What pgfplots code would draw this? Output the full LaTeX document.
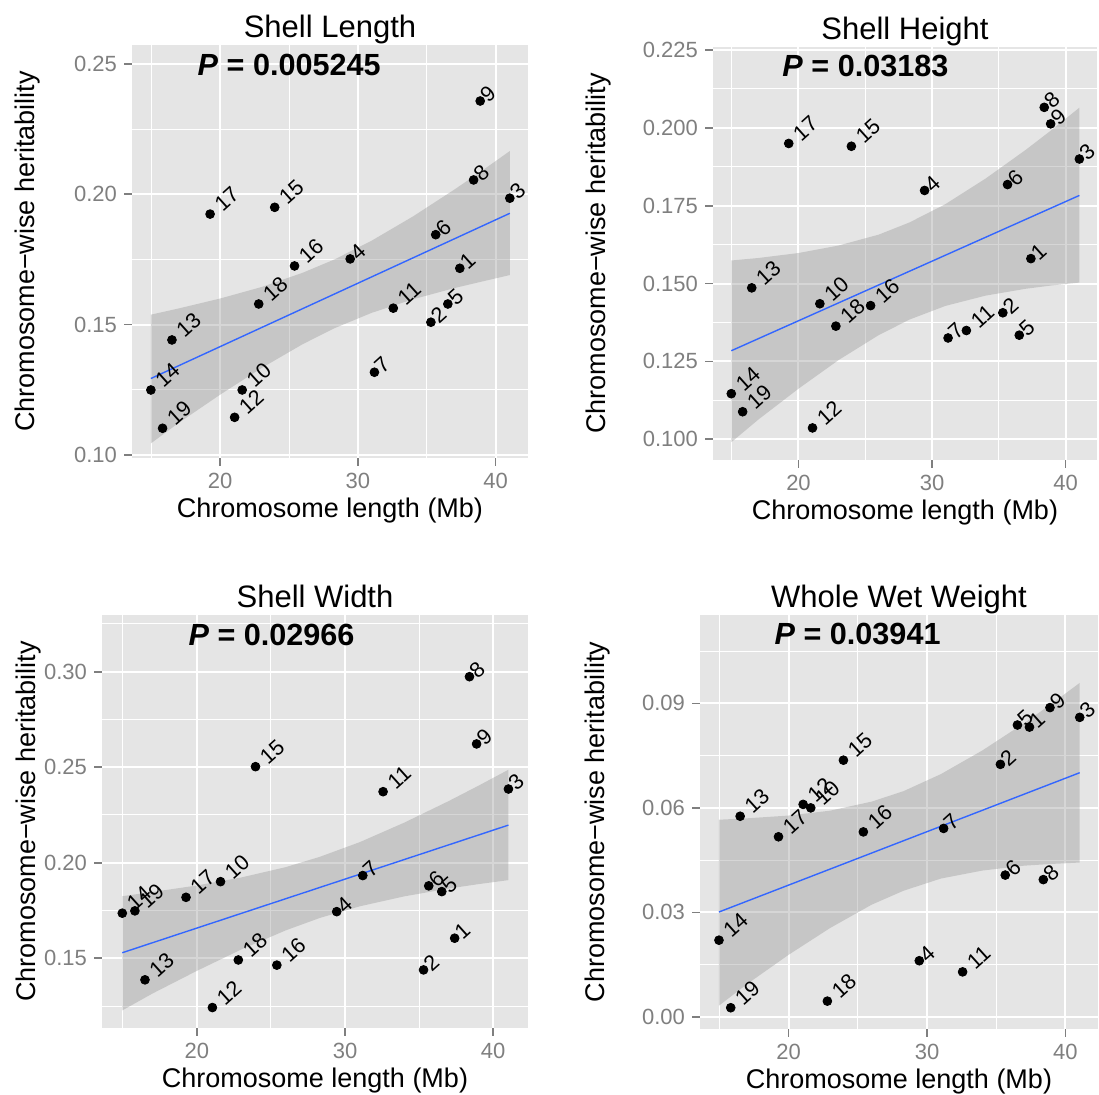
\documentclass[border=0pt]{standalone}
\usepackage{pgfplots}
\pgfplotsset{compat=1.18}
\usepackage{pgfplotstable}
\usepgfplotslibrary{fillbetween}
\usepackage{fontspec}
\setmainfont{Liberation Sans}
\definecolor{bgc}{HTML}{E5E5E5}
\definecolor{grayt}{HTML}{7F7F7F}
\definecolor{bandc}{HTML}{999999}
\definecolor{lineblue}{HTML}{3366FF}
\newcommand\titfont{\fontsize{15.5}{18}\selectfont}
\newcommand\labfont{\fontsize{13.5}{16}\selectfont}
\newcommand\ticfont{\fontsize{11}{13}\selectfont}
\newcommand\ptfont{\fontsize{10.8}{12}\selectfont}
\newcommand\pfont{\fontsize{15.3}{18}\selectfont\bfseries}

\pgfplotstableread{
x y lab off
37.40 0.1716 1 2
35.30 0.1509 2 2
41.03 0.1985 3 2
29.44 0.1752 4 2
36.53 0.1579 5 2
35.65 0.1845 6 2
31.20 0.1317 7 2
38.40 0.2055 8 2
38.88 0.2358 9 2
21.60 0.1249 10 5
32.57 0.1563 11 5
21.05 0.1144 12 5
16.50 0.1441 13 5
14.97 0.1249 14 5
23.96 0.1950 15 5
25.40 0.1725 16 5
19.27 0.1924 17 5
22.80 0.1579 18 5
15.82 0.1102 19 5
}\tabA
\pgfplotstableread{
x y lab off
37.40 0.1580 1 2
35.30 0.1406 2 2
41.03 0.1900 3 2
29.44 0.1799 4 2
36.53 0.1334 5 2
35.65 0.1818 6 2
31.20 0.1325 7 2
38.40 0.2066 8 2
38.88 0.2013 9 2
21.60 0.1435 10 5
32.57 0.1349 11 5
21.05 0.1036 12 5
16.50 0.1486 13 5
14.97 0.1146 14 5
23.96 0.1941 15 5
25.40 0.1429 16 5
19.27 0.1950 17 5
22.80 0.1363 18 5
15.82 0.1088 19 5
}\tabB
\pgfplotstableread{
x y lab off
37.40 0.1605 1 2
35.30 0.1439 2 2
41.03 0.2386 3 2
29.44 0.1744 4 2
36.53 0.1849 5 2
35.65 0.1879 6 2
31.20 0.1933 7 2
38.40 0.2974 8 2
38.88 0.2622 9 2
21.60 0.1901 10 5
32.57 0.2372 11 5
21.05 0.1242 12 5
16.50 0.1387 13 5
14.97 0.1736 14 5
23.96 0.2503 15 5
25.40 0.1464 16 5
19.27 0.1819 17 5
22.80 0.1491 18 5
15.82 0.1748 19 5
}\tabC
\pgfplotstableread{
x y lab off
37.40 0.0832 1 2
35.30 0.0725 2 2
41.03 0.0860 3 2
29.44 0.0161 4 2
36.53 0.0838 5 2
35.65 0.0407 6 2
31.20 0.0541 7 2
38.40 0.0394 8 2
38.88 0.0888 9 2
21.60 0.0600 10 5
32.57 0.0129 11 5
21.05 0.0610 12 5
16.50 0.0576 13 5
14.97 0.0220 14 5
23.96 0.0737 15 5
25.40 0.0531 16 5
19.27 0.0517 17 5
22.80 0.0045 18 5
15.82 0.0026 19 5
}\tabD

\pgfplotsset{
  gg/.style={
    scale only axis,
    axis background/.style={fill=bgc},
    axis line style={draw=none},
    grid=both,
    major grid style={white, line width=1pt},
    minor grid style={white, line width=0.5pt},
    tick align=outside,
    xtick pos=bottom, ytick pos=left,
    major tick length=4pt,
    minor tick length=0pt,
    tick style={grayt, line width=0.8pt},
    xmin=13.6, xmax=42.35,
    xtick={20,30,40},
    xticklabels={20,30,40},
    minor xtick={15,25,35},
    ticklabel style={font=\ticfont, text=grayt},
    xlabel={Chromosome length (Mb)},
    ylabel={Chromosome−wise heritability},
    label style={font=\labfont},
    xlabel style={at={(axis description cs:0.5,0)}, anchor=base, yshift=-30pt},
    title style={at={(axis description cs:0.5,1)}, anchor=base, yshift=-2.5pt, font=\titfont},
  },
  pts/.style={only marks, mark=*, mark size=2.2pt, black},
  labs/.style={draw=none, mark=none, forget plot, nodes near coords, point meta=explicit symbolic,
    visualization depends on={\thisrow{off}\as\off},
    nodes near coords style={anchor=west, rotate=42, xshift=\off pt, inner sep=0pt, font=\ptfont, text=black}},
  band/.style={fill=bandc, fill opacity=0.4, draw=none},
  fit/.style={line width=0.7pt, lineblue},
}

\begin{document}
\begin{tikzpicture}

% Panel 1: Shell Length
\begin{axis}[gg, at={(66pt,318.5pt)}, anchor=south west, width=198pt, height=206.5pt,
  ymin=0.0988, ymax=0.2573,
  ytick={0.10,0.15,0.20,0.25}, yticklabels={0.10,0.15,0.20,0.25},
  minor ytick={0.125,0.175,0.225},
  ylabel style={at={(axis description cs:-0.245,0.5)}, anchor=base},
  title={Shell Length}]
\addplot[pts] table[x=x,y=y] \tabA;
\addplot[name path=up, draw=none, forget plot] coordinates {(14.97,0.1538) (17,0.1562) (20,0.1600) (23,0.1644) (26,0.1699) (28.3,0.1750) (31,0.1822) (34,0.1915) (37,0.2018) (39,0.2090) (41.03,0.2166)};
\addplot[name path=lo, draw=none, forget plot] coordinates {(14.97,0.1044) (17,0.1123) (20,0.1231) (23,0.1333) (26,0.1425) (28.3,0.1486) (31,0.1545) (34,0.1597) (37,0.1640) (39,0.1665) (41.03,0.1690)};
\addplot[band] fill between[of=up and lo];
\addplot[fit] coordinates {(14.97,0.1293) (41.03,0.1927)};
\addplot[labs] table[x=x,y=y,meta=lab] \tabA;
\node[anchor=base, font=\pfont] at (rel axis cs:0.397,0.927) {\textit{P} = 0.005245};
\end{axis}

% Panel 2: Shell Height
\begin{axis}[gg, at={(356.5pt,317.5pt)}, anchor=south west, width=192pt, height=206.5pt,
  ymin=0.0933, ymax=0.226,
  ytick={0.100,0.125,0.150,0.175,0.200,0.225}, yticklabels={0.100,0.125,0.150,0.175,0.200,0.225},
  minor ytick={0.1125,0.1375,0.1625,0.1875,0.2125},
  ylabel style={at={(axis description cs:-0.281,0.5)}, anchor=base},
  title={Shell Height}]
\addplot[pts] table[x=x,y=y] \tabB;
\addplot[name path=up, draw=none, forget plot] coordinates {(14.97,0.1574) (17,0.1582) (20,0.1598) (23,0.1622) (26,0.1657) (28.3,0.1696) (31,0.1755) (34,0.1837) (37,0.1929) (39,0.1995) (41.03,0.2065)};
\addplot[name path=lo, draw=none, forget plot] coordinates {(14.97,0.0990) (17,0.1063) (20,0.1162) (23,0.1254) (26,0.1334) (28.3,0.1384) (31,0.1428) (34,0.1461) (37,0.1483) (39,0.1494) (41.03,0.1503)};
\addplot[band] fill between[of=up and lo];
\addplot[fit] coordinates {(14.97,0.1284) (41.03,0.1783)};
\addplot[labs] table[x=x,y=y,meta=lab] \tabB;
\node[anchor=base, font=\pfont] at (rel axis cs:0.397,0.928) {\textit{P} = 0.03183};
\end{axis}

% Panel 3: Shell Width
\begin{axis}[gg, at={(51pt,33.5pt)}, anchor=south west, width=213pt, height=206.5pt,
  ymin=0.1135, ymax=0.3297,
  ytick={0.15,0.20,0.25,0.30}, yticklabels={0.15,0.20,0.25,0.30},
  minor ytick={0.125,0.175,0.225,0.275,0.325},
  ylabel style={at={(axis description cs:-0.157,0.5)}, anchor=base},
  title={Shell Width}]
\addplot[pts] table[x=x,y=y] \tabC;
\addplot[name path=up, draw=none, forget plot] coordinates {(14.97,0.1825) (17,0.1847) (20,0.1881) (23,0.1923) (26,0.1977) (28.3,0.2031) (31,0.2108) (34,0.2210) (37,0.2323) (39,0.2403) (41.03,0.2487)};
\addplot[name path=lo, draw=none, forget plot] coordinates {(14.97,0.1227) (17,0.1315) (20,0.1434) (23,0.1546) (26,0.1646) (28.3,0.1711) (31,0.1772) (34,0.1824) (37,0.1865) (39,0.1888) (41.03,0.1909)};
\addplot[band] fill between[of=up and lo];
\addplot[fit] coordinates {(14.97,0.1529) (41.03,0.2197)};
\addplot[labs] table[x=x,y=y,meta=lab] \tabC;
\node[anchor=base, font=\pfont] at (rel axis cs:0.398,0.927) {\textit{P} = 0.02966};
\end{axis}

% Panel 4: Whole Wet Weight
\begin{axis}[gg, at={(350pt,33pt)}, anchor=south west, width=199pt, height=207pt,
  ymin=-0.0035, ymax=0.1154,
  ytick={0,0.03,0.06,0.09}, yticklabels={0.00,0.03,0.06,0.09},
  minor ytick={0.015,0.045,0.075,0.105},
  ylabel style={at={(axis description cs:-0.239,0.5)}, anchor=base},
  title={Whole Wet Weight}]
\addplot[pts] table[x=x,y=y] \tabD;
\addplot[name path=up, draw=none, forget plot] coordinates {(14.97,0.0566) (17,0.0570) (20,0.0578) (23,0.0592) (26,0.0618) (28.3,0.0648) (31,0.0697) (34,0.0765) (37,0.0843) (39,0.0899) (41.03,0.0959)};
\addplot[name path=lo, draw=none, forget plot] coordinates {(14.97,0.0032) (17,0.0094) (20,0.0178) (23,0.0255) (26,0.0322) (28.3,0.0362) (31,0.0397) (34,0.0420) (37,0.0434) (39,0.0439) (41.03,0.0443)};
\addplot[band] fill between[of=up and lo];
\addplot[fit] coordinates {(14.97,0.0301) (41.03,0.0701)};
\addplot[labs] table[x=x,y=y,meta=lab] \tabD;
\node[anchor=base, font=\pfont] at (rel axis cs:0.396,0.928) {\textit{P} = 0.03941};
\end{axis}

\pgfresetboundingbox
\useasboundingbox (0,0) rectangle (549.5pt,547.5pt);
\end{tikzpicture}
\end{document}
